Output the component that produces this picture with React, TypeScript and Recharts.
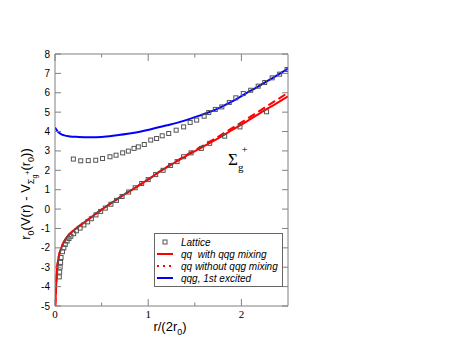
import { ComposedChart, Line, Scatter, XAxis, YAxis, Legend } from "recharts";

// lattice points (both the ground-state branch and the excited branch)
const latticeR = [
  0.046, 0.05, 0.055, 0.06, 0.065, 0.08, 0.095, 0.11, 0.13, 0.15, 0.17, 0.2, 0.23, 0.27, 0.31, 0.35, 0.39,
  0.44, 0.49, 0.54, 0.6, 0.66, 0.72, 0.79, 0.86, 0.93, 1.0, 1.08, 1.16, 1.24, 1.31, 1.38, 1.46, 1.57, 1.66,
  1.82, 1.985, 2.27,
  0.197, 0.276, 0.357, 0.437, 0.51, 0.59, 0.655, 0.726, 0.787, 0.848, 0.894, 0.958, 1.027, 1.09, 1.15, 1.22,
  1.3, 1.38, 1.45, 1.52, 1.6, 1.65, 1.72, 1.79, 1.87, 1.94, 2.02, 2.1, 2.18, 2.25, 2.33, 2.41, 2.49,
];
const latticeV = [
  -3.5, -3.25, -3.0, -2.75, -2.5, -2.2, -2.0, -1.82, -1.65, -1.52, -1.4, -1.27, -1.12, -0.98, -0.82, -0.66, -0.5,
  -0.3, -0.12, 0.05, 0.25, 0.45, 0.65, 0.88, 1.1, 1.32, 1.52, 1.78, 2.0, 2.25, 2.45, 2.7, 2.9, 3.13, 3.39,
  3.76, 4.24, 5.02,
  2.58, 2.49, 2.5, 2.52, 2.61, 2.7, 2.78, 2.9, 2.99, 3.13, 3.21, 3.33, 3.56, 3.64, 3.78, 3.9,
  4.07, 4.24, 4.47, 4.59, 4.79, 4.98, 5.14, 5.27, 5.5, 5.74, 5.96, 6.13, 6.34, 6.53, 6.77, 6.96, 7.2,
];

// qq with qqg mixing (solid red)
const mixR = [0.003, 0.012, 0.02, 0.03, 0.04, 0.06, 0.08, 0.12, 0.16, 0.22, 0.3, 0.4, 0.5, 0.6, 0.7, 0.8, 0.9, 1.0, 1.13, 1.25, 1.4, 1.59, 1.75, 1.9, 2.05, 2.2, 2.35, 2.5];
const mixV = [-5.0, -4.0, -3.2, -2.75, -2.45, -2.1, -1.85, -1.5, -1.27, -1.02, -0.74, -0.38, -0.03, 0.3, 0.62, 0.92, 1.22, 1.53, 1.95, 2.3, 2.72, 3.22, 3.65, 4.08, 4.5, 4.95, 5.38, 5.82];

// qq without qqg mixing (dashed red)
const noMixR = [0.003, 0.012, 0.02, 0.03, 0.04, 0.06, 0.08, 0.12, 0.16, 0.22, 0.3, 0.4, 0.5, 0.6, 0.7, 0.8, 0.9, 1.0, 1.13, 1.25, 1.4, 1.59, 1.75, 1.9, 2.05, 2.2, 2.35, 2.5];
const noMixV = [-5.0, -4.0, -3.2, -2.75, -2.45, -2.1, -1.85, -1.5, -1.27, -1.02, -0.74, -0.38, -0.03, 0.3, 0.62, 0.92, 1.22, 1.53, 1.96, 2.32, 2.76, 3.28, 3.73, 4.18, 4.62, 5.08, 5.54, 6.0];

// qqg, 1st excited (blue)
const excR = [0.0, 0.03, 0.06, 0.1, 0.16, 0.25, 0.375, 0.5, 0.66, 0.85, 1.02, 1.2, 1.38, 1.55, 1.73, 1.9, 2.09, 2.3, 2.5];
const excV = [4.21, 4.0, 3.88, 3.8, 3.75, 3.72, 3.7, 3.72, 3.81, 3.94, 4.11, 4.32, 4.55, 4.82, 5.14, 5.55, 6.08, 6.66, 7.25];

const xTicks = [0, 0.5, 1, 1.5, 2];
const yTicks = [-5, -4, -3, -2, -1, 0, 1, 2, 3, 4, 5, 6, 7, 8];
const legendLabels = ["Lattice", "qq  with qqg mixing", "qq without qqg mixing", "qqg, 1st excited"];

const zip = (r: number[], v: number[]) => r.map((x, i) => ({ r: x, v: v[i] }));
const lattice = zip(latticeR, latticeV);
const mix = zip(mixR, mixV);
const noMix = zip(noMixR, noMixV);
const excited = zip(excR, excV);

const FRAME = "#808080";

const FrameTick = (props: any) => {
  const { x, y, payload, side } = props;
  const v = payload.value;
  const major = Number.isInteger(v);
  if (side === "bottom" || side === "top") {
    const len = major ? 7 : 3.5;
    const dir = side === "bottom" ? -1 : 1;
    return (
      <g>
        <line x1={x} y1={y} x2={x} y2={y + dir * len} stroke={FRAME} />
        {side === "bottom" && major && (
          <text x={x} y={y + 12} textAnchor="middle" fontSize={11} fontFamily="Liberation Serif" fill="#000">
            {v}
          </text>
        )}
      </g>
    );
  }
  const dir = side === "left" ? 1 : -1;
  return (
    <g>
      <line x1={x} y1={y} x2={x + dir * 6} y2={y} stroke={FRAME} />
      {side === "left" && (
        <text x={x - 5} y={y + 3.5} textAnchor="end" fontSize={10} fontFamily="Liberation Sans" fill="#000">
          {v}
        </text>
      )}
    </g>
  );
};

const Square = (p: any) => (
  <rect x={p.cx - 2} y={p.cy - 2} width={4} height={4} fill="none" stroke="#555" strokeWidth={1} />
);

const LegendBox = () => (
  <svg width={129} height={54} style={{ display: "block" }}>
    <rect x={0.5} y={0.5} width={128} height={53} fill="#fff" stroke="#666" />
    <rect x={9} y={7} width={4} height={4} fill="none" stroke="#555" />
    <line x1={3} y1={21} x2={19} y2={21} stroke="#ff0000" strokeWidth={2} />
    <line x1={3} y1={33} x2={19} y2={33} stroke="#ff0000" strokeWidth={2} strokeDasharray="2 4" />
    <line x1={3} y1={45} x2={19} y2={45} stroke="#0000ff" strokeWidth={2} />
    {legendLabels.map((t, i) => (
      <text
        key={t}
        x={27}
        y={12.5 + i * 12}
        fontSize={10}
        fontStyle="italic"
        fontFamily="Liberation Sans"
        fill="#000"
        style={{ whiteSpace: "pre" }}
      >
        {t}
      </text>
    ))}
  </svg>
);

export default function App() {
  return (
    <div style={{ position: "relative", width: 450, height: 344 }}>
      <ComposedChart width={450} height={344} data={lattice} margin={{ top: 45, right: 169, bottom: 0, left: 0 }}>
        <XAxis
          dataKey="r"
          type="number"
          domain={[0, 2.5]}
          ticks={xTicks}
          interval={0}
          allowDataOverflow
          height={46}
          tickSize={0}
          tickMargin={0}
          tickLine={false}
          stroke={FRAME}
          tick={(p: any) => <FrameTick {...p} side="bottom" />}
        />
        <XAxis
          xAxisId="top"
          orientation="top"
          dataKey="r"
          type="number"
          domain={[0, 2.5]}
          ticks={xTicks}
          interval={0}
          allowDataOverflow
          height={1}
          tickSize={0}
          tickMargin={0}
          tickLine={false}
          stroke={FRAME}
          tick={(p: any) => <FrameTick {...p} side="top" />}
        />
        <YAxis
          type="number"
          domain={[-5, 8]}
          ticks={yTicks}
          interval={0}
          allowDataOverflow
          width={47}
          tickSize={0}
          tickMargin={0}
          tickLine={false}
          stroke={FRAME}
          tick={(p: any) => <FrameTick {...p} side="left" />}
        />
        <YAxis
          yAxisId="right"
          orientation="right"
          dataKey="v"
          type="number"
          domain={[-5, 8]}
          ticks={yTicks}
          interval={0}
          allowDataOverflow
          width={1}
          tickSize={0}
          tickMargin={0}
          tickLine={false}
          stroke={FRAME}
          tick={(p: any) => <FrameTick {...p} side="right" />}
        />
        <Scatter name="Lattice" data={lattice} dataKey="v" shape={Square} isAnimationActive={false} />
        <Line data={noMix} dataKey="v" type="monotone" stroke="#ff0000" strokeWidth={2} strokeDasharray="8 4" dot={false} isAnimationActive={false} />
        <Line data={mix} dataKey="v" type="monotone" stroke="#ff0000" strokeWidth={2} dot={false} isAnimationActive={false} />
        <Line data={excited} dataKey="v" type="monotone" stroke="#0000ff" strokeWidth={2} dot={false} isAnimationActive={false} />
        <Legend
          layout="vertical"
          align="center"
          verticalAlign="middle"
          content={() => <LegendBox />}
          wrapperStyle={{ position: "absolute", left: 146, top: 225, width: 129, height: 54 }}
        />
      </ComposedChart>
      <svg width={450} height={344} style={{ position: "absolute", left: 0, top: 0, pointerEvents: "none" }}>
        <text x={162} y={323} textAnchor="middle" fontSize={13} fontFamily="Liberation Sans" fill="#000">
          r/(2r<tspan fontSize={9} dy={4}>0</tspan>
          <tspan dy={-4}>)</tspan>
        </text>
        <text
          transform="translate(22,186) rotate(-90)"
          textAnchor="middle"
          fontSize={13}
          fontFamily="Liberation Sans"
          fill="#000"
        >
          r<tspan fontSize={9} dy={4}>0</tspan>
          <tspan dy={-4}>(V(r) - V</tspan>
          <tspan fontSize={9} dy={4}>Σ</tspan>
          <tspan fontSize={7} dy={3}>g</tspan>
          <tspan fontSize={7} dy={-7}>+</tspan>
          <tspan dy={0}>(r</tspan>
          <tspan fontSize={9} dy={4}>0</tspan>
          <tspan dy={-4}>))</tspan>
        </text>
        <text x={220} y={157} fontSize={17} fontFamily="Liberation Serif" fill="#000">
          Σ<tspan fontSize={11} dy={6}>g</tspan>
          <tspan fontSize={11} dx={-2} dy={-18}>+</tspan>
        </text>
      </svg>
    </div>
  );
}
